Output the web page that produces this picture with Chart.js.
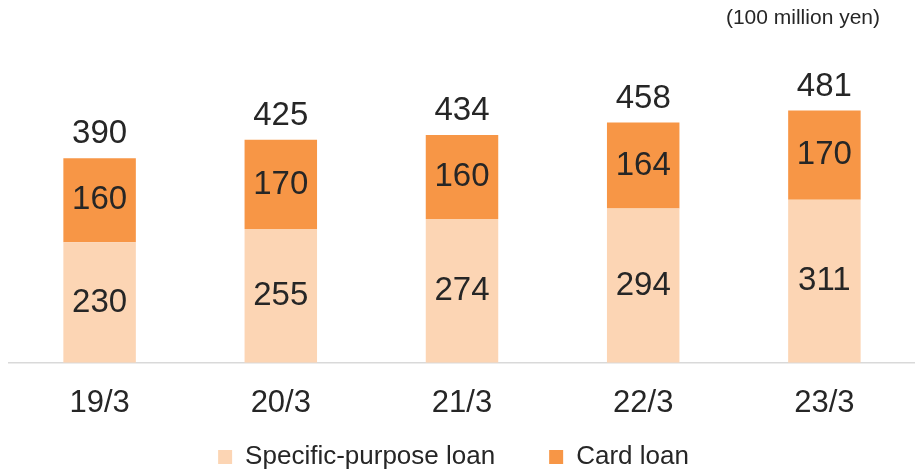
<!DOCTYPE html>
<html>
<head>
<meta charset="utf-8">
<script src="https://cdn.jsdelivr.net/npm/chart.js@4.4.1/dist/chart.umd.min.js"></script>
<style>
  html, body { margin: 0; padding: 0; background: #fff; }
  #wrap { width: 915px; height: 470px; }
</style>
</head>
<body>
<div id="wrap"><canvas id="loanChart"></canvas></div>
<script>
const years = ['19/3', '20/3', '21/3', '22/3', '23/3'];
const specificPurpose = [230, 255, 274, 294, 311];
const cardLoan = [160, 170, 160, 164, 170];
const unitText = '(100 million yen)';

const textColor = '#262626';
const fontFamily = '"Liberation Sans", Arial, sans-serif';

// numbers inside each segment, plus the stacked total on top
const valueLabels = {
    id: 'valueLabels',
    afterLayout(chart) {
        // the wide item padding makes the legend box tall, pull it back up
        const lg = chart.legend;
        lg.left -= 11;
        lg.right -= 11;
        lg.top -= 54;
        lg.bottom -= 54;
    },
    afterDatasetsDraw(chart) {
        const ctx = chart.ctx;
        ctx.save();
        ctx.fillStyle = textColor;
        ctx.font = '33px ' + fontFamily;
        ctx.textAlign = 'center';
        ctx.textBaseline = 'middle';
        chart.data.datasets.forEach((ds, i) => {
            const meta = chart.getDatasetMeta(i);
            meta.data.forEach((bar, j) => {
                const mid = (bar.y + bar.base) / 2;
                ctx.fillText(ds.data[j], bar.x, mid);
            });
        });
        const topMeta = chart.getDatasetMeta(chart.data.datasets.length - 1);
        topMeta.data.forEach((bar, j) => {
            const total = specificPurpose[j] + cardLoan[j];
            ctx.fillText(total, bar.x, bar.y - 24);
        });

        ctx.font = '21px ' + fontFamily;
        ctx.textAlign = 'right';
        ctx.fillText(unitText, 880, 18);
        ctx.restore();
    }
};

const ctx = document.getElementById('loanChart').getContext('2d');

new Chart(ctx, {
    type: 'bar',
    data: {
        labels: years,
        datasets: [{
            label: 'Specific-purpose loan',
            data: specificPurpose,
            backgroundColor: '#FCD5B4',
            categoryPercentage: 1,
            barPercentage: 0.4
        }, {
            label: 'Card loan',
            data: cardLoan,
            backgroundColor: '#F79646',
            categoryPercentage: 1,
            barPercentage: 0.4
        }]
    },
    options: {
        responsive: true,
        maintainAspectRatio: false,
        animation: false,
        layout: {
            padding: { top: 48, left: 9, right: -5, bottom: -64 }
        },
        plugins: {
            legend: {
                position: 'bottom',
                labels: {
                    color: textColor,
                    font: { family: fontFamily, size: 26 },
                    boxWidth: 14,
                    boxHeight: 14,
                    padding: 54
                }
            },
            tooltip: { enabled: false }
        },
        scales: {
            x: {
                stacked: true,
                grid: { display: false, drawTicks: false },
                border: { color: '#d9d9d9', width: 1.5 },
                ticks: {
                    color: textColor,
                    font: { family: fontFamily, size: 31 },
                    padding: 22
                }
            },
            y: {
                stacked: true,
                display: false,
                min: 0,
                max: 600
            }
        }
    },
    plugins: [valueLabels]
});
</script>
</body>
</html>
